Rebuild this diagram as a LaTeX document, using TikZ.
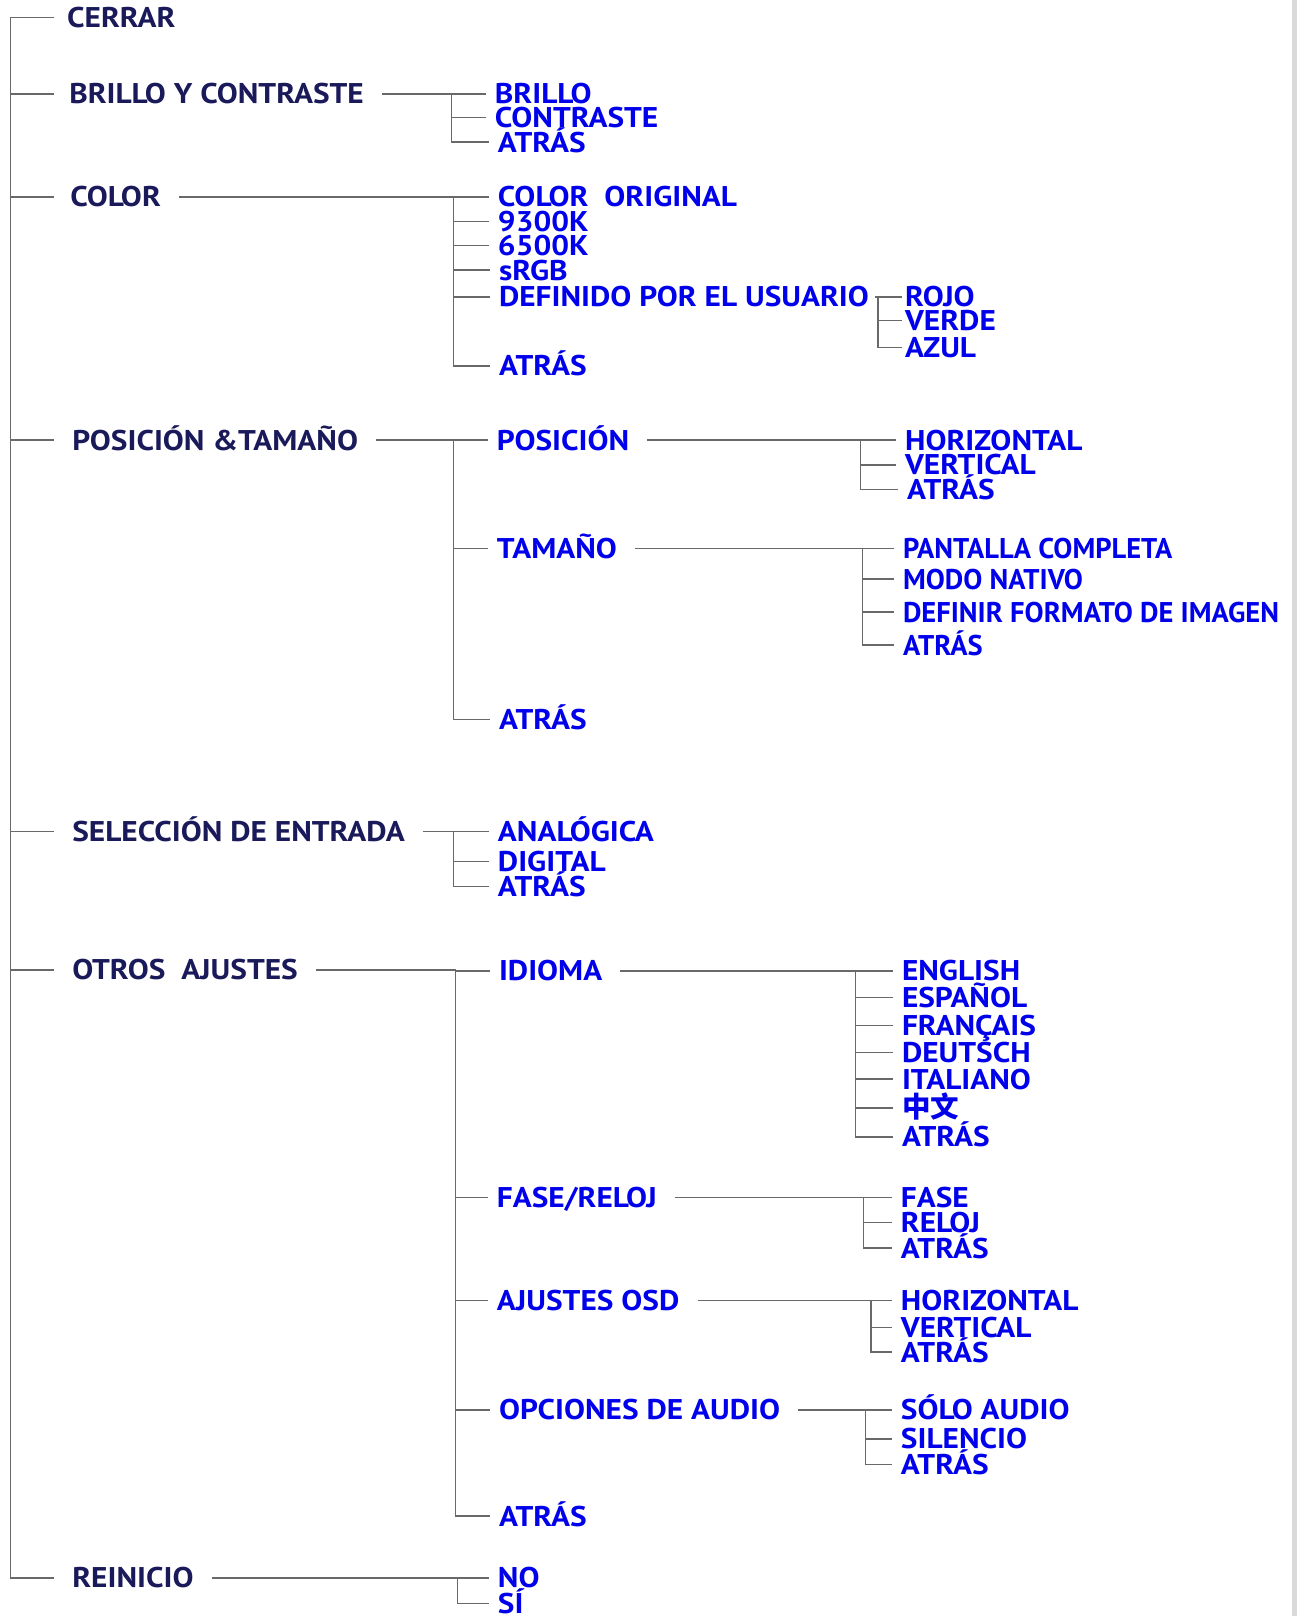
\documentclass[tikz,border=0pt]{standalone}
\usepackage{fontspec}
\setmainfont{PT Sans}[FakeStretch=1.1]
\newfontfamily\narrowfont{PT Sans}[FakeStretch=1.0]
\newfontfamily\cjk{Noto Sans CJK SC}
\definecolor{menunavy}{RGB}{26,26,90}
\definecolor{menublue}{RGB}{0,0,235}
\definecolor{linegray}{RGB}{105,105,105}
\tikzset{
  mainitem/.style={anchor=west, inner sep=0pt, text height=20pt, text depth=0pt,
    font=\fontsize{28.5}{30}\selectfont\bfseries, text=menunavy},
  subitem/.style={mainitem, text=menublue},
  narrowitem/.style={subitem, font=\fontsize{28.5}{30}\selectfont\narrowfont\bfseries},
  link/.style={draw=linegray, line width=1.5pt},
}
% parent, junction, children but the last, last child
\newcommand{\menubranch}[4]{%
  \draw[link] ([xshift=18]#1.east) -- (#1.east -| #2) |- ([xshift=-9]#4.west);
  \foreach \c in {#3} \draw[link] (#2 |- \c.west) -- ([xshift=-9]\c.west);
}
\begin{document}
\begin{tikzpicture}[x=1.0302pt, y=-1.0302pt]
  \useasboundingbox (0,0) rectangle (1258,1568);
  \fill[gray!30] (1254,0) rectangle (1258,1568);
  % main menu
  \node[mainitem] (cerrar) at (65,17) {CERRAR};
  \node[mainitem] (brillo) at (67,91) {BRILLO Y CONTRASTE};
  \node[mainitem] (color) at (68,191) {COLOR};
  \node[mainitem] (pos) at (70,427) {POSICIÓN \&TAMAÑO};
  \node[mainitem] (sel) at (70,807) {SELECCIÓN DE ENTRADA};
  \node[mainitem] (otros) at (70,941) {OTROS~~AJUSTES};
  \node[mainitem] (reinicio) at (70,1531) {REINICIO};
  % brillo y contraste
  \node[subitem] (br1) at (480,91) {BRILLO};
  \node[subitem] (br2) at (480,114) {CONTRASTE};
  \node[subitem] (br3) at (483,138) {ATRÁS};
  % color
  \node[subitem] (co1) at (483,191) {COLOR~~ORIGINAL};
  \node[subitem] (co2) at (483,215) {9300K};
  \node[subitem] (co3) at (483,238) {6500K};
  \node[subitem] (co4) at (484,262) {sRGB};
  \node[subitem] (co5) at (484,288) {DEFINIDO POR EL USUARIO};
  \node[subitem] (co6) at (484,355) {ATRÁS};
  \node[subitem] (rgb1) at (878,288) {ROJO};
  \node[subitem] (rgb2) at (878,311) {VERDE};
  \node[subitem] (rgb3) at (878,337) {AZUL};
  % posicion y tamano
  \node[subitem] (pt1) at (482,427) {POSICIÓN};
  \node[subitem] (pt2) at (482,532) {TAMAÑO};
  \node[subitem] (pt3) at (484,698) {ATRÁS};
  \node[subitem] (ph1) at (878,427) {HORIZONTAL};
  \node[subitem] (ph2) at (878,451) {VERTICAL};
  \node[subitem] (ph3) at (880,475) {ATRÁS};
  \node[narrowitem] (tm1) at (876,532) {PANTALLA COMPLETA};
  \node[narrowitem] (tm2) at (876,562) {MODO NATIVO};
  \node[narrowitem] (tm3) at (876,594) {DEFINIR FORMATO DE IMAGEN};
  \node[narrowitem] (tm4) at (876,626) {ATRÁS};
  % seleccion de entrada
  \node[subitem] (se1) at (483,807) {ANALÓGICA};
  \node[subitem] (se2) at (483,836) {DIGITAL};
  \node[subitem] (se3) at (483,860) {ATRÁS};
  % otros ajustes
  \node[subitem] (ot1) at (484,942) {IDIOMA};
  \node[subitem] (ot2) at (482,1162) {FASE/RELOJ};
  \node[subitem] (ot3) at (482,1262) {AJUSTES OSD};
  \node[subitem] (ot4) at (484,1368) {OPCIONES DE AUDIO};
  \node[subitem] (ot5) at (484,1471) {ATRÁS};
  \node[subitem] (lg1) at (875,942) {ENGLISH};
  \node[subitem] (lg2) at (875,968) {ESPAÑOL};
  \node[subitem] (lg3) at (875,995) {FRANÇAIS};
  \node[subitem] (lg4) at (875,1021) {DEUTSCH};
  \node[subitem] (lg5) at (875,1047) {ITALIANO};
  \node[subitem] (lg6) at (875,1075) {\cjk 中文};
  \node[subitem] (lg7) at (875,1103) {ATRÁS};
  \node[subitem] (fa1) at (874,1162) {FASE};
  \node[subitem] (fa2) at (874,1186) {RELOJ};
  \node[subitem] (fa3) at (874,1211) {ATRÁS};
  \node[subitem] (os1) at (874,1262) {HORIZONTAL};
  \node[subitem] (os2) at (874,1288) {VERTICAL};
  \node[subitem] (os3) at (874,1312) {ATRÁS};
  \node[subitem] (au1) at (874,1368) {SÓLO AUDIO};
  \node[subitem] (au2) at (874,1396) {SILENCIO};
  \node[subitem] (au3) at (874,1421) {ATRÁS};
  % reinicio
  \node[subitem] (re1) at (483,1531) {NO};
  \node[subitem] (re2) at (483,1556) {SÍ};
  % junctions
  \coordinate (trunk) at (10,0);
  \coordinate (tick) at (52,0);
  \coordinate (jbr) at (438,0);
  \coordinate (jco) at (440,0);
  \coordinate (jrgb) at (852,0);
  \coordinate (jpt) at (440,0);
  \coordinate (jpos) at (835,0);
  \coordinate (jtam) at (837,0);
  \coordinate (jse) at (440,0);
  \coordinate (jot) at (442,0);
  \coordinate (jid) at (830,0);
  \coordinate (jfa) at (838,0);
  \coordinate (jos) at (845,0);
  \coordinate (jau) at (840,0);
  \coordinate (jre) at (444,0);
  % connectors
  \draw[link] (tick |- cerrar.west) -| (trunk |- reinicio.west) -- (tick |- reinicio.west);
  \foreach \n in {brillo,color,pos,sel,otros} \draw[link] (trunk |- \n.west) -- (tick |- \n.west);
  \menubranch{brillo}{jbr}{br1,br2}{br3}
  \menubranch{color}{jco}{co1,co2,co3,co4,co5}{co6}
  \draw[link] ([xshift=6]co5.east) -- (co5.east -| jrgb) |- ([xshift=-3]rgb3.west);
  \foreach \c in {rgb1,rgb2} \draw[link] (jrgb |- \c.west) -- ([xshift=-3]\c.west);
  \menubranch{pos}{jpt}{pt1,pt2}{pt3}
  \menubranch{pt1}{jpos}{ph1,ph2}{ph3}
  \menubranch{pt2}{jtam}{tm1,tm2,tm3}{tm4}
  \menubranch{sel}{jse}{se1,se2}{se3}
  \menubranch{otros}{jot}{ot1,ot2,ot3,ot4}{ot5}
  \menubranch{ot1}{jid}{lg1,lg2,lg3,lg4,lg5,lg6}{lg7}
  \menubranch{ot2}{jfa}{fa1,fa2}{fa3}
  \menubranch{ot3}{jos}{os1,os2}{os3}
  \menubranch{ot4}{jau}{au1,au2}{au3}
  \menubranch{reinicio}{jre}{re1}{re2}
\end{tikzpicture}
\end{document}
